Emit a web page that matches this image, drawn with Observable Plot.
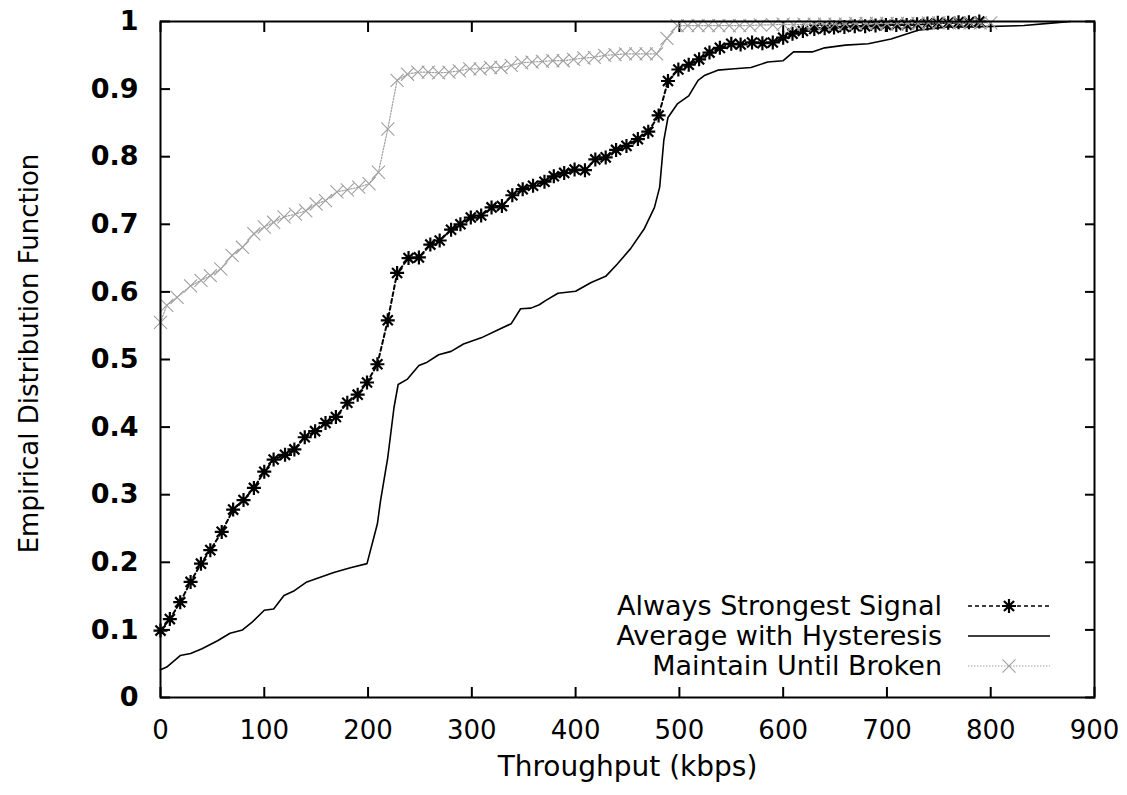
<!DOCTYPE html>
<html>
<head>
<meta charset="utf-8">
<script src="https://cdn.jsdelivr.net/npm/d3@7"></script>
<script src="https://cdn.jsdelivr.net/npm/@observablehq/plot@0.6"></script>
<style>
  html, body { margin: 0; padding: 0; background: #fff; }
  #chart { position: relative; width: 1127px; height: 795px; }
</style>
</head>
<body>
<div id="chart"></div>
<script>
// ---- Data ----
const strongestX = [0, 9, 19, 29, 39, 48, 59, 70, 80, 90, 100, 109, 120, 129, 139, 149, 159, 169, 180, 190, 199, 209, 219, 228, 239, 249, 260, 269, 280, 289, 299, 309, 319, 329, 339, 349, 359, 370, 379, 389, 399, 409, 419, 429, 439, 449, 460, 470, 480, 489, 499, 509, 519, 529, 539, 550, 559, 570, 580, 590, 600, 609, 619, 630, 640, 649, 659, 669, 679, 689, 699, 709, 719, 729, 739, 749, 759, 769, 779, 789];
const strongestY = [0.099, 0.116, 0.141, 0.171, 0.198, 0.218, 0.245, 0.278, 0.292, 0.310, 0.334, 0.352, 0.359, 0.367, 0.385, 0.394, 0.406, 0.415, 0.436, 0.448, 0.466, 0.493, 0.558, 0.628, 0.650, 0.651, 0.670, 0.676, 0.692, 0.700, 0.710, 0.713, 0.725, 0.727, 0.743, 0.752, 0.757, 0.763, 0.771, 0.776, 0.781, 0.780, 0.796, 0.799, 0.810, 0.816, 0.826, 0.837, 0.861, 0.912, 0.929, 0.936, 0.944, 0.954, 0.961, 0.967, 0.966, 0.969, 0.968, 0.969, 0.976, 0.982, 0.986, 0.989, 0.990, 0.991, 0.992, 0.993, 0.993, 0.994, 0.995, 0.995, 0.995, 0.996, 0.997, 0.998, 0.998, 0.999, 0.999, 1.0];

const hysteresisX = [0, 6, 19, 29, 40, 55, 67, 79, 88, 100, 109, 119, 129, 141, 154, 167, 183, 199, 209, 212, 219, 225, 229, 238, 249, 257, 268, 280, 292, 309, 328, 338, 347, 357, 365, 371, 383, 400, 415, 429, 440, 453, 466, 476, 481, 485, 489, 498, 509, 518, 524, 537, 553, 569, 585, 600, 610, 628, 640, 660, 682, 704, 730, 758, 784, 832, 861, 877];
const hysteresisY = [0.041, 0.045, 0.062, 0.065, 0.072, 0.084, 0.095, 0.100, 0.111, 0.129, 0.131, 0.151, 0.158, 0.171, 0.178, 0.185, 0.192, 0.198, 0.257, 0.291, 0.355, 0.429, 0.463, 0.471, 0.491, 0.496, 0.507, 0.512, 0.523, 0.532, 0.546, 0.553, 0.575, 0.576, 0.581, 0.587, 0.598, 0.601, 0.614, 0.623, 0.641, 0.664, 0.693, 0.725, 0.755, 0.824, 0.858, 0.878, 0.890, 0.913, 0.920, 0.928, 0.930, 0.932, 0.940, 0.942, 0.955, 0.955, 0.961, 0.965, 0.967, 0.974, 0.987, 0.992, 0.992, 0.994, 0.998, 1.0];

const maintainX = [0, 6, 16, 29, 39, 48, 58, 69, 79, 90, 100, 109, 119, 130, 140, 150, 159, 170, 180, 191, 201, 210, 219, 228, 238, 248, 258, 268, 278, 288, 298, 308, 318, 328, 338, 348, 358, 368, 378, 388, 398, 408, 418, 428, 438, 448, 458, 468, 478, 488, 498, 508, 518, 528, 538, 548, 558, 568, 578, 590, 600, 610, 620, 630, 640, 650, 660, 670, 680, 690, 700, 710, 720, 730, 740, 750, 760, 770, 780, 790, 800];
const maintainY = [0.555, 0.580, 0.592, 0.609, 0.617, 0.624, 0.634, 0.654, 0.666, 0.686, 0.696, 0.703, 0.711, 0.715, 0.720, 0.730, 0.735, 0.748, 0.751, 0.755, 0.760, 0.777, 0.841, 0.913, 0.922, 0.925, 0.925, 0.924, 0.925, 0.927, 0.930, 0.930, 0.932, 0.932, 0.935, 0.939, 0.940, 0.941, 0.942, 0.942, 0.944, 0.946, 0.947, 0.950, 0.951, 0.952, 0.952, 0.952, 0.952, 0.975, 0.994, 0.994, 0.994, 0.994, 0.994, 0.994, 0.994, 0.994, 0.995, 0.995, 0.996, 0.995, 0.996, 0.996, 0.996, 0.996, 0.996, 0.997, 0.997, 0.997, 0.997, 0.997, 0.997, 0.997, 0.998, 0.998, 0.998, 0.998, 0.998, 0.998, 0.998];

const seriesNames = ["Always Strongest Signal", "Average with Hysteresis", "Maintain Until Broken"];
const xTicks = [0, 100, 200, 300, 400, 500, 600, 700, 800, 900];
const yTicks = [0, 0.1, 0.2, 0.3, 0.4, 0.5, 0.6, 0.7, 0.8, 0.9, 1];
const xTitle = "Throughput (kbps)";
const yTitle = "Empirical Distribution Function";

// ---- Build tables ----
const strongest = strongestX.map((x, i) => ({x, y: strongestY[i]}));
const hysteresis = hysteresisX.map((x, i) => ({x, y: hysteresisY[i]}));
const maintain = maintainX.map((x, i) => ({x, y: maintainY[i]}));

const GRAY = "#a0a0a0";
const FONT = "DejaVu Sans";

// Custom asterisk symbol (gnuplot point type 3)
const asterisk = {
  draw(ctx, size) {
    const r = Math.sqrt(size / Math.PI);
    const d = r * 0.72;
    ctx.moveTo(-r, 0); ctx.lineTo(r, 0);
    ctx.moveTo(0, -r); ctx.lineTo(0, r);
    ctx.moveTo(-d, -d); ctx.lineTo(d, d);
    ctx.moveTo(-d, d); ctx.lineTo(d, -d);
  }
};

const plot = Plot.plot({
  width: 1127,
  height: 795,
  marginLeft: 160,
  marginRight: 33,
  marginTop: 21,
  marginBottom: 98,
  style: {fontFamily: FONT, background: "#fff", color: "#000"},
  x: {domain: [0, 900], label: null},
  y: {domain: [0, 1], label: null},
  marks: [
    // inward ticks on all four sides
    Plot.axisX({anchor: "bottom", ticks: xTicks, tickSize: -10, fill: "none", strokeWidth: 2, label: null}),
    Plot.axisX({anchor: "top", ticks: xTicks, tickSize: -10, fill: "none", strokeWidth: 2, label: null}),
    Plot.axisY({anchor: "left", ticks: yTicks, tickSize: -10, fill: "none", strokeWidth: 2, label: null}),
    Plot.axisY({anchor: "right", ticks: yTicks, tickSize: -10, fill: "none", strokeWidth: 2, label: null}),
    // tick labels
    Plot.axisX({anchor: "bottom", ticks: xTicks, tickSize: 0, tickPadding: 23, fontSize: 26, tickFormat: d => String(d), label: null}),
    Plot.axisY({anchor: "left", ticks: yTicks, tickSize: 0, tickPadding: 22, fontSize: 27, fontWeight: "bold", tickFormat: d => String(d), label: null}),
    // axis titles
    Plot.text([xTitle], {frameAnchor: "bottom", dy: 78, fontSize: 28, text: d => d, fill: "#000"}),
    Plot.text([yTitle], {frameAnchor: "left", dx: -131, dy: -6, rotate: -90, textAnchor: "middle", fontSize: 26, text: d => d, fill: "#000"}),
    // series
    Plot.line(strongest, {x: "x", y: "y", stroke: "#000", strokeWidth: 2, strokeDasharray: "4,3"}),
    Plot.dot(strongest, {x: "x", y: "y", symbol: asterisk, r: 7, stroke: "#000", strokeWidth: 2.2, fill: "none"}),
    Plot.line(hysteresis, {x: "x", y: "y", stroke: "#000", strokeWidth: 1.6}),
    Plot.line(maintain, {x: "x", y: "y", stroke: GRAY, strokeWidth: 1.2, strokeDasharray: "1.5,1.5"}),
    Plot.dot(maintain, {x: "x", y: "y", symbol: "times", r: 6, stroke: GRAY, strokeWidth: 1.1, fill: "none"}),
    Plot.frame({stroke: "#000", strokeWidth: 2})
  ]
});

document.getElementById("chart").appendChild(plot);

// ---- Legend (inside the plot, bottom-right, gnuplot style) ----
const svg = d3.select(plot);
const lg = svg.append("g").attr("font-family", FONT).attr("font-size", 27);
const rowsY = [606, 636, 666];
const textRight = 942, lineX1 = 968, lineX2 = 1050, symX = 1009;
const styles = [
  {stroke: "#000", width: 1.6, dash: "4,3"},
  {stroke: "#000", width: 1.6, dash: null},
  {stroke: GRAY, width: 1.2, dash: "1.5,1.5"}
];
seriesNames.forEach((name, i) => {
  const y = rowsY[i];
  lg.append("text").attr("x", textRight).attr("y", y).attr("dy", "0.35em")
    .attr("text-anchor", "end").attr("fill", "#000").text(name);
  const ln = lg.append("line").attr("x1", lineX1).attr("x2", lineX2).attr("y1", y).attr("y2", y)
    .attr("stroke", styles[i].stroke).attr("stroke-width", styles[i].width);
  if (styles[i].dash) ln.attr("stroke-dasharray", styles[i].dash);
});
// legend symbols
lg.append("path").attr("transform", `translate(${symX},${rowsY[0]})`)
  .attr("d", d3.symbol(asterisk, Math.PI * 49)()).attr("stroke", "#000").attr("stroke-width", 2.2).attr("fill", "none");
lg.append("path").attr("transform", `translate(${symX},${rowsY[2]})`)
  .attr("d", d3.symbol(d3.symbolTimes, Math.PI * 36)()).attr("stroke", GRAY).attr("stroke-width", 1.1).attr("fill", "none");
</script>
</body>
</html>
